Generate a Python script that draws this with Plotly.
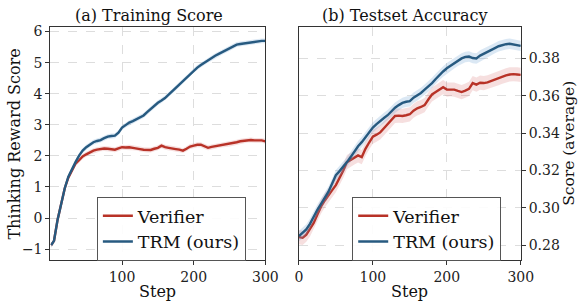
import plotly.graph_objects as go

# ---------------- data ----------------
steps_train = [1, 5, 10, 15, 20, 25, 30, 35, 40, 45, 50, 55, 60, 65, 70, 75, 80, 85, 90, 95,
               100, 105, 110, 115, 120, 125, 130, 135, 140, 145, 150, 155, 160, 165, 170, 175,
               180, 185, 190, 195, 200, 205, 210, 215, 220, 225, 230, 235, 240, 245, 250, 255,
               260, 265, 270, 275, 280, 285, 290, 295, 300]
trm_train = [-0.87, -0.73, -0.05, 0.48, 0.96, 1.33, 1.59, 1.80, 2.01, 2.17, 2.28, 2.37, 2.44, 2.48,
             2.51, 2.57, 2.62, 2.64, 2.65, 2.75, 2.91, 2.99, 3.07, 3.12, 3.18, 3.24, 3.30, 3.41,
             3.52, 3.61, 3.71, 3.78, 3.86, 3.97, 4.08, 4.18, 4.29, 4.40, 4.52, 4.64, 4.76, 4.84,
             4.92, 5.00, 5.08, 5.15, 5.22, 5.28, 5.34, 5.40, 5.45, 5.52, 5.58, 5.60, 5.62, 5.64,
             5.66, 5.68, 5.69, 5.70, 5.70]
verifier_train = [-0.87, -0.73, -0.05, 0.50, 0.96, 1.30, 1.55, 1.75, 1.86, 1.98, 2.05, 2.12, 2.17,
                  2.20, 2.23, 2.24, 2.23, 2.21, 2.20, 2.24, 2.28, 2.27, 2.28, 2.26, 2.25, 2.22,
                  2.20, 2.19, 2.19, 2.23, 2.26, 2.33, 2.28, 2.26, 2.25, 2.22, 2.20, 2.17, 2.23,
                  2.30, 2.33, 2.36, 2.36, 2.30, 2.26, 2.29, 2.31, 2.34, 2.36, 2.37, 2.38, 2.41,
                  2.44, 2.47, 2.49, 2.51, 2.51, 2.50, 2.51, 2.50, 2.47]
train_band = [0.08]

steps_test = [0, 5, 10, 15, 20, 25, 30, 35, 40, 45, 50, 55, 60, 65, 70, 75, 80, 85, 90, 95,
              100, 105, 110, 115, 120, 125, 130, 135, 140, 145, 150, 155, 160, 165, 170, 175,
              180, 185, 190, 195, 200, 205, 210, 215, 220, 225, 230, 235, 240, 245, 250, 255,
              260, 265, 270, 275, 280, 285, 290, 295, 300]
trm_test = [0.2849, 0.2865, 0.2885, 0.2915, 0.2955, 0.2990, 0.3022, 0.3055, 0.3087, 0.3130,
            0.3175, 0.3197, 0.3219, 0.3245, 0.3272, 0.3302, 0.3330, 0.3352, 0.3377, 0.3405,
            0.3430, 0.3448, 0.3466, 0.3481, 0.3496, 0.3516, 0.3536, 0.3550, 0.3562, 0.3568,
            0.3571, 0.3590, 0.3601, 0.3615, 0.3633, 0.3650, 0.3668, 0.3690, 0.3712, 0.3730,
            0.3747, 0.3760, 0.3774, 0.3788, 0.3800, 0.3808, 0.3810, 0.3802, 0.3800, 0.3815,
            0.3826, 0.3835, 0.3844, 0.3855, 0.3865, 0.3872, 0.3876, 0.3878, 0.3874, 0.3870,
            0.3867]
verifier_test = [0.2844, 0.2840, 0.2857, 0.2885, 0.2920, 0.2965, 0.3008, 0.3040, 0.3070, 0.3095,
                 0.3122, 0.3160, 0.3200, 0.3245, 0.3258, 0.3270, 0.3281, 0.3272, 0.3316, 0.3350,
                 0.3381, 0.3392, 0.3404, 0.3426, 0.3448, 0.3470, 0.3492, 0.3494, 0.3492, 0.3496,
                 0.3501, 0.3520, 0.3533, 0.3540, 0.3550, 0.3580, 0.3607, 0.3620, 0.3633, 0.3646,
                 0.3633, 0.3635, 0.3633, 0.3626, 0.3620, 0.3628, 0.3637, 0.3668, 0.3660, 0.3670,
                 0.3668, 0.3672, 0.3680, 0.3687, 0.3694, 0.3702, 0.3709, 0.3714, 0.3716, 0.3714,
                 0.3712]
trm_test_band = [0.0028]
verifier_test_band = [0.0038]

train_xticks = [100, 200, 300]
test_xticks = [0, 100, 200, 300]
train_yticks = [-1, 0, 1, 2, 3, 4, 5, 6]
test_yticks = [0.28, 0.30, 0.32, 0.34, 0.36, 0.38]
test_yticklabels = ["0.28", "0.30", "0.32", "0.34", "0.36", "0.38"]

# ---------------- style ----------------
RED = "#b83227"
BLUE = "#275a80"
RED_FILL = "rgba(214,110,110,0.22)"
BLUE_FILL = "rgba(110,165,210,0.25)"
FONT = "DejaVu Serif"
W, H = 579, 302


def px(x):
    return ((x - 4.0) / 0.972) / W


def py(y):
    return 1 - (y - 1.5) / H


fig = go.Figure()


def add_series(x, y, band, color, fill, name, xa, ya, legend):
    upper = [v + band[0] for v in y]
    lower = [v - band[0] for v in y]
    fig.add_trace(go.Scatter(x=x + x[::-1], y=upper + lower[::-1], fill="toself",
                             fillcolor=fill, line=dict(width=0), hoverinfo="skip",
                             showlegend=False, xaxis=xa, yaxis=ya))
    fig.add_trace(go.Scatter(x=x, y=y, mode="lines", name=name,
                             line=dict(color=color, width=2.4),
                             xaxis=xa, yaxis=ya, legend=legend))


add_series(steps_train, verifier_train, train_band, RED, RED_FILL, "Verifier", "x", "y", "legend")
add_series(steps_train, trm_train, train_band, BLUE, BLUE_FILL, "TRM (ours)", "x", "y", "legend")
add_series(steps_test, verifier_test, verifier_test_band, RED, RED_FILL, "Verifier", "x2", "y2", "legend2")
add_series(steps_test, trm_test, trm_test_band, BLUE, BLUE_FILL, "TRM (ours)", "x2", "y2", "legend2")

x1 = [px(50.5), px(265.7)]
x2 = [px(299.3), px(521.5)]
ydom = [py(261), py(25)]

axis_common = dict(showline=True, linecolor="#333333", linewidth=1.2, mirror=True,
                   showgrid=True, gridcolor="#dddddd", griddash="dash", gridwidth=0.8,
                   ticks="outside", ticklen=4, tickwidth=1, tickcolor="#333333",
                   tickfont=dict(family=FONT, size=14, color="#222222"), zeroline=False)

legend_common = dict(xanchor="left", yanchor="top",
                     bgcolor="rgba(255,255,255,0.9)", bordercolor="#555555", borderwidth=1,
                     font=dict(family=FONT, size=17.5, color="#111111"))

fig.update_layout(
    width=W, height=H,
    margin=dict(l=0, r=0, t=0, b=0),
    paper_bgcolor="white", plot_bgcolor="white",
    xaxis=dict(domain=x1, anchor="y", range=[0, 300], tickvals=train_xticks, **axis_common),
    yaxis=dict(domain=ydom, anchor="x", range=[-1.35, 6.14], tickvals=train_yticks, **axis_common),
    xaxis2=dict(domain=x2, anchor="y2", range=[0, 300], tickvals=test_xticks, **axis_common),
    yaxis2=dict(domain=ydom, anchor="x2", range=[0.2721, 0.3967], tickvals=test_yticks,
                ticktext=test_yticklabels, side="right", **axis_common),
    legend=dict(x=px(97), y=py(197), **legend_common),
    legend2=dict(x=px(352.7), y=py(197), **legend_common),
)

ann_font = dict(family=FONT, size=16, color="#111111")


def label(text, x, y, angle=0, size=16):
    fig.add_annotation(text=text, x=px(x), y=py(y), xref="paper", yref="paper",
                       showarrow=False, font=dict(ann_font, size=size), textangle=angle,
                       xanchor="center", yanchor="middle")


label("(a) Training Score", 149.5, 13)
label("(b) Testset Accuracy", 406, 13)
label("Step", 158, 293)
label("Step", 410, 293)
label("Thinking Reward Score", 15, 143, -90)
label("Score (average)", 569, 143, -90, 15.5)

fig.write_html(
    "out.html",
    config={"displayModeBar": False},
    post_script="document.body.style.margin='0';document.body.style.overflow='hidden';",
)
